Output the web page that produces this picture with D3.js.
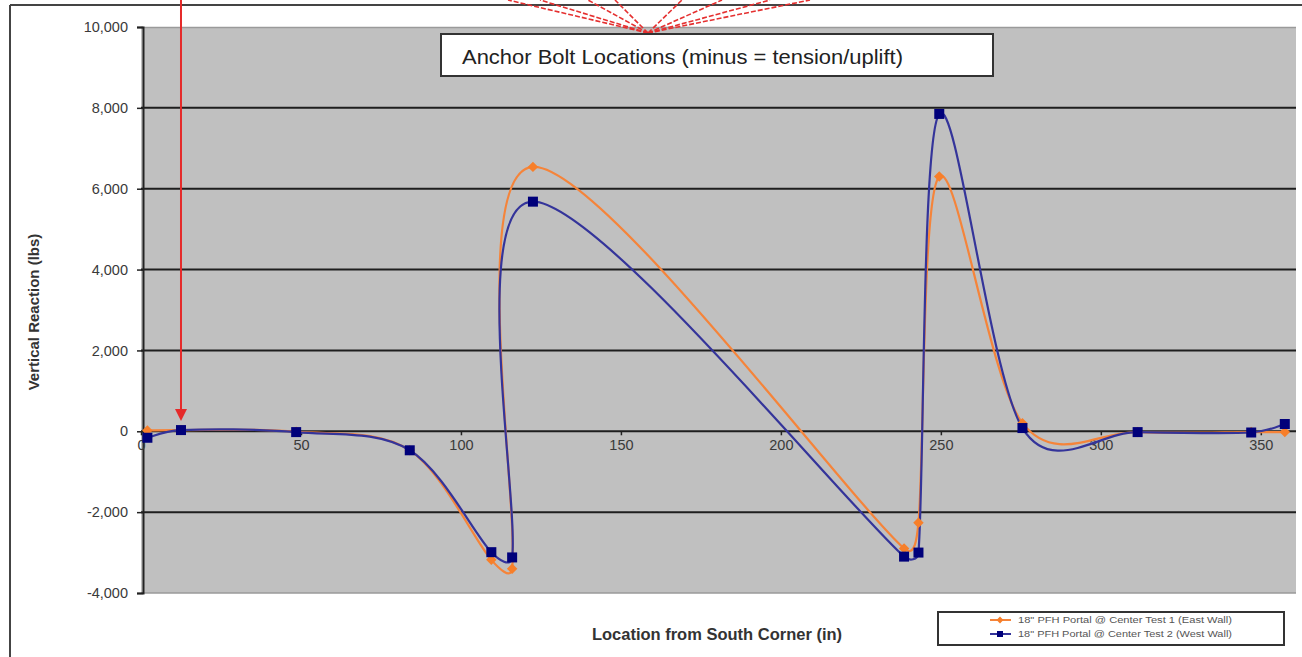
<!DOCTYPE html>
<html><head><meta charset="utf-8">
<script src="https://cdn.jsdelivr.net/npm/d3@7"></script>
<style>html,body{margin:0;padding:0;background:#fff;}svg{display:block;}</style>
</head><body>
<svg id="chart" width="1302" height="657"></svg>
<script>
// ---- data ----
const boltX = [2, 12.5, 48.5, 84, 109.5, 116, 122.5, 238.5, 243, 249.5, 275.5, 311.5, 347, 357.5];
const test1 = [20, 30, -10, -470, -3180, -3400, 6540, -2900, -2260, 6300, 200, -20, -20, -20];
const test2 = [-160, 30, -20, -470, -2990, -3120, 5680, -3100, -3000, 7850, 80, -20, -30, 180];
const xTicks = [0, 50, 100, 150, 200, 250, 300, 350];
const yTicks = [-4000, -2000, 0, 2000, 4000, 6000, 8000, 10000];
const seriesNames = ['18" PFH Portal @ Center Test 1 (East Wall)', '18" PFH Portal @ Center Test 2 (West Wall)'];
const annotation = "Anchor Bolt Locations (minus = tension/uplift)";
const arrowBolt = 12.5;
const fanTopX = [508, 540, 588, 615, 682, 722, 770, 810];

const svg = d3.select("#chart");
const W = 1302, H = 657;
const L = 141, R = 1296, T = 27, B = 593;
const x = d3.scaleLinear().domain([0, 361]).range([L, R]);
const y = d3.scaleLinear().domain([-4000, 10000]).range([B, T]);
const fmt = d => d3.format(",")(d).replace("\u2212", "-");

// Excel-like smoothed line: Catmull-Rom tangents (1/6), control offsets clamped to half the segment length
function smoothPath(vals) {
  const p = vals.map((v, i) => [x(boltX[i]), y(v)]);
  const n = p.length, path = d3.path();
  path.moveTo(p[0][0], p[0][1]);
  const clamp = (t, segLen) => {
    const len = Math.hypot(t[0], t[1]), lim = segLen * 0.5;
    return len > lim && len > 0 ? [t[0] * lim / len, t[1] * lim / len] : t;
  };
  for (let i = 0; i < n - 1; i++) {
    const p0 = p[Math.max(0, i - 1)], p1 = p[i], p2 = p[i + 1], p3 = p[Math.min(n - 1, i + 2)];
    const seg = Math.hypot(p2[0] - p1[0], p2[1] - p1[1]);
    const t1 = clamp([(p2[0] - p0[0]) / 6, (p2[1] - p0[1]) / 6], seg);
    const t2 = clamp([(p3[0] - p1[0]) / 6, (p3[1] - p1[1]) / 6], seg);
    path.bezierCurveTo(p1[0] + t1[0], p1[1] + t1[1], p2[0] - t2[0], p2[1] - t2[1], p2[0], p2[1]);
  }
  return path.toString();
}

// outer chart frame
svg.append("line").attr("x1", 10).attr("x2", W).attr("y1", 5).attr("y2", 5).attr("stroke", "#444").attr("stroke-width", 2);
svg.append("line").attr("x1", 10).attr("x2", 10).attr("y1", 5).attr("y2", H).attr("stroke", "#444").attr("stroke-width", 2);

// plot area
svg.append("rect").attr("x", L).attr("y", T).attr("width", R - L).attr("height", B - T).attr("fill", "#c0c0c0");
svg.append("line").attr("x1", L).attr("x2", R).attr("y1", T + 0.5).attr("y2", T + 0.5).attr("stroke", "#9a9a9a").attr("stroke-width", 1.5);
svg.append("line").attr("x1", L).attr("x2", R).attr("y1", B).attr("y2", B).attr("stroke", "#9a9a9a").attr("stroke-width", 1.5);

// gridlines
svg.append("g").selectAll("line").data(yTicks.filter(v => v > -4000 && v < 10000)).join("line")
  .attr("x1", L).attr("x2", R).attr("y1", d => y(d)).attr("y2", d => y(d))
  .attr("stroke", "#1e1e1e").attr("stroke-width", 2);

// y axis
const yAxis = svg.append("g").attr("transform", `translate(${L + 2},0)`)
  .call(d3.axisLeft(y).tickValues(yTicks).tickSize(6).tickPadding(9).tickFormat(fmt));
yAxis.select(".domain").attr("stroke", "#222").attr("stroke-width", 2);
yAxis.selectAll(".tick line").attr("stroke", "#222").attr("stroke-width", 1.5);
yAxis.selectAll("text").attr("font-family", "Liberation Sans, Arial, sans-serif").attr("font-size", 14.5).attr("fill", "#3a3a3a");

// x axis (crosses at 0)
const xAxis = svg.append("g").attr("transform", `translate(0,${y(0)})`)
  .call(d3.axisBottom(x).tickValues(xTicks).tickSize(4).tickPadding(4).tickFormat(d3.format("d")));
xAxis.select(".domain").remove();
xAxis.selectAll(".tick line").attr("stroke", "#222").attr("stroke-width", 1.5);
xAxis.selectAll("text").attr("font-family", "Liberation Sans, Arial, sans-serif").attr("font-size", 14.5).attr("fill", "#3a3a3a");

// clip
svg.append("clipPath").attr("id", "clip").append("rect").attr("x", L).attr("y", T - 10).attr("width", R - L).attr("height", B - T + 20);

const gPlot = svg.append("g").attr("clip-path", "url(#clip)");
const orange = "#f5843a", blue = "#34349a", navy = "#00007a";

gPlot.append("path").attr("d", smoothPath(test1)).attr("fill", "none").attr("stroke", orange).attr("stroke-width", 2.2);
gPlot.append("path").attr("d", smoothPath(test2)).attr("fill", "none").attr("stroke", blue).attr("stroke-width", 2.2);

const diamond = d3.symbol().type(d3.symbolDiamond2).size(70);
gPlot.append("g").selectAll("path").data(test1).join("path")
  .attr("d", diamond).attr("transform", (d, i) => `translate(${x(boltX[i])},${y(d)})`).attr("fill", "#f77f2a");
gPlot.append("g").selectAll("rect").data(test2).join("rect")
  .attr("x", (d, i) => x(boltX[i]) - 5).attr("y", d => y(d) - 5).attr("width", 10).attr("height", 10).attr("fill", navy);

// red arrow to bolt
const ax = x(arrowBolt);
svg.append("line").attr("x1", ax).attr("x2", ax).attr("y1", 0).attr("y2", 412).attr("stroke", "#e52a2a").attr("stroke-width", 2);
svg.append("path").attr("d", `M${ax - 6},409 L${ax + 6},409 L${ax},421 Z`).attr("fill", "#e52a2a");

// fan lines
const fx = 648, fy = 33;
svg.append("g").selectAll("line").data(fanTopX).join("line")
  .attr("x1", fx).attr("y1", fy).attr("x2", d => d).attr("y2", 0)
  .attr("stroke", "#e53030").attr("stroke-width", 1.6).attr("stroke-dasharray", "5,2");

// annotation box
svg.append("rect").attr("x", 441).attr("y", 34).attr("width", 552).attr("height", 42).attr("fill", "#fff").attr("stroke", "#333").attr("stroke-width", 2);
svg.append("text").attr("x", 462).attr("y", 64).attr("font-family", "Liberation Sans Narrow, Arial Narrow, Liberation Sans, sans-serif")
  .attr("font-size", 21).attr("fill", "#222").attr("textLength", 441).attr("lengthAdjust", "spacingAndGlyphs").text(annotation);

// axis titles
svg.append("text").attr("x", 717).attr("y", 640).attr("text-anchor", "middle").attr("font-family", "Liberation Sans, Arial, sans-serif")
  .attr("font-weight", "bold").attr("font-size", 16.5).attr("fill", "#333").text("Location from South Corner (in)");
svg.append("text").attr("transform", "translate(39,312) rotate(-90)").attr("text-anchor", "middle").attr("font-family", "Liberation Sans, Arial, sans-serif")
  .attr("font-weight", "bold").attr("font-size", 15).attr("fill", "#333").text("Vertical Reaction (lbs)");

// legend
const lg = svg.append("g");
lg.append("rect").attr("x", 938).attr("y", 612).attr("width", 346).attr("height", 33).attr("fill", "#fff").attr("stroke", "#333").attr("stroke-width", 2);
const legendRows = [{c: orange, m: "d", t: seriesNames[0], yy: 620}, {c: blue, m: "s", t: seriesNames[1], yy: 634}];
legendRows.forEach(r => {
  lg.append("line").attr("x1", 990).attr("x2", 1011).attr("y1", r.yy).attr("y2", r.yy).attr("stroke", r.c).attr("stroke-width", 2);
  if (r.m === "d") lg.append("path").attr("d", d3.symbol().type(d3.symbolDiamond2).size(30)).attr("transform", `translate(1000,${r.yy})`).attr("fill", "#f77f2a");
  else lg.append("rect").attr("x", 997).attr("y", r.yy - 3).attr("width", 6).attr("height", 6).attr("fill", navy);
  lg.append("text").attr("x", 1018).attr("y", r.yy + 3).attr("font-family", "Liberation Sans, Arial, sans-serif").attr("font-size", 8.5)
    .attr("fill", "#555").attr("textLength", 214).attr("lengthAdjust", "spacingAndGlyphs").text(r.t);
});
</script>
</body></html>
